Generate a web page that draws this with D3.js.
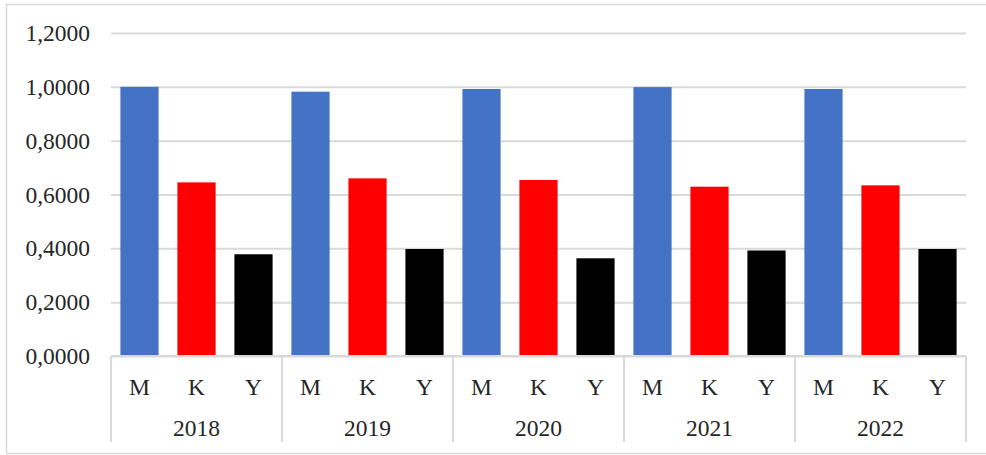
<!DOCTYPE html>
<html>
<head>
<meta charset="utf-8">
<script src="https://cdn.jsdelivr.net/npm/d3@7"></script>
<style>
  body { margin: 0; background: #fff; }
  text { font-family: "Liberation Serif", "Times New Roman", serif; fill: #262626; }
</style>
</head>
<body>
<div id="chart"></div>
<script>
var svgWidth = 986;
var svgHeight = 455;

// data
var years = ["2018", "2019", "2020", "2021", "2022"];
var series = ["M", "K", "Y"];
var valuesM = [1.0000, 0.9820, 0.9920, 0.9990, 0.9920];
var valuesK = [0.6450, 0.6600, 0.6540, 0.6290, 0.6340];
var valuesY = [0.3780, 0.3975, 0.3630, 0.3920, 0.3975];
var yTicks = [0, 0.2, 0.4, 0.6, 0.8, 1.0, 1.2];
var colors = { M: "#4472C4", K: "#FF0000", Y: "#000000" };

var fontSize = 23.5;
var margin = { top: 33, right: 20, bottom: 99, left: 111 };
var width = 966 - margin.left;
var height = 356 - margin.top;

var svg = d3.select("#chart")
  .append("svg")
  .attr("width", svgWidth)
  .attr("height", svgHeight);

// outer frame (right side is cut off in the original)
svg.append("path")
  .attr("d", "M992,4.5 H6.5 V453.5 H992")
  .attr("fill", "none")
  .attr("stroke", "#d9d9d9")
  .attr("stroke-width", 1.5);

var chartGroup = svg.append("g")
  .attr("transform", `translate(${margin.left}, ${margin.top})`);

var rows = [];
years.forEach(function (yr, i) {
  rows.push({ year: yr, s: "M", value: valuesM[i] });
  rows.push({ year: yr, s: "K", value: valuesK[i] });
  rows.push({ year: yr, s: "Y", value: valuesY[i] });
});

var x0 = d3.scaleBand().domain(years).range([0, width]);
var x1 = d3.scaleBand().domain(series).range([0, x0.bandwidth()]).paddingInner(0.33).paddingOuter(0.165);
var yScale = d3.scaleLinear().domain([0, 1.2]).range([height, 0]);

// gridlines + y labels
var leftAxis = d3.axisLeft(yScale)
  .tickValues(yTicks)
  .tickSize(-width)
  .tickPadding(21)
  .tickFormat(d => d3.format(".4f")(d).replace(".", ","));

var yAxis = chartGroup.append("g").call(leftAxis);
yAxis.select(".domain").remove();
yAxis.selectAll("line").attr("stroke", "#d9d9d9").attr("stroke-width", 2);
yAxis.selectAll("text").attr("font-size", fontSize).attr("fill", "#262626");

// bars
chartGroup.selectAll("rect.bar")
  .data(rows)
  .enter()
  .append("rect")
  .attr("class", "bar")
  .attr("x", d => x0(d.year) + x1(d.s))
  .attr("width", x1.bandwidth())
  .attr("y", d => yScale(d.value))
  .attr("height", d => height - yScale(d.value))
  .attr("fill", d => colors[d.s]);

// category axis: baseline, separators, labels
chartGroup.append("line")
  .attr("x1", 0).attr("x2", width)
  .attr("y1", height).attr("y2", height)
  .attr("stroke", "#d9d9d9").attr("stroke-width", 2);

var seps = years.map(y => x0(y)).concat([width]);
chartGroup.selectAll("line.sep")
  .data(seps)
  .enter()
  .append("line")
  .attr("class", "sep")
  .attr("x1", d => d).attr("x2", d => d)
  .attr("y1", height).attr("y2", height + 86)
  .attr("stroke", "#d9d9d9").attr("stroke-width", 2);

chartGroup.selectAll("text.sub")
  .data(rows)
  .enter()
  .append("text")
  .attr("class", "sub")
  .attr("x", d => x0(d.year) + x1(d.s) + x1.bandwidth() / 2)
  .attr("y", height + 31)
  .attr("dy", "0.35em")
  .attr("text-anchor", "middle")
  .attr("font-size", fontSize)
  .text(d => d.s);

chartGroup.selectAll("text.year")
  .data(years)
  .enter()
  .append("text")
  .attr("class", "year")
  .attr("x", d => x0(d) + x0.bandwidth() / 2)
  .attr("y", height + 72)
  .attr("dy", "0.35em")
  .attr("text-anchor", "middle")
  .attr("font-size", fontSize)
  .text(d => d);
</script>
</body>
</html>
